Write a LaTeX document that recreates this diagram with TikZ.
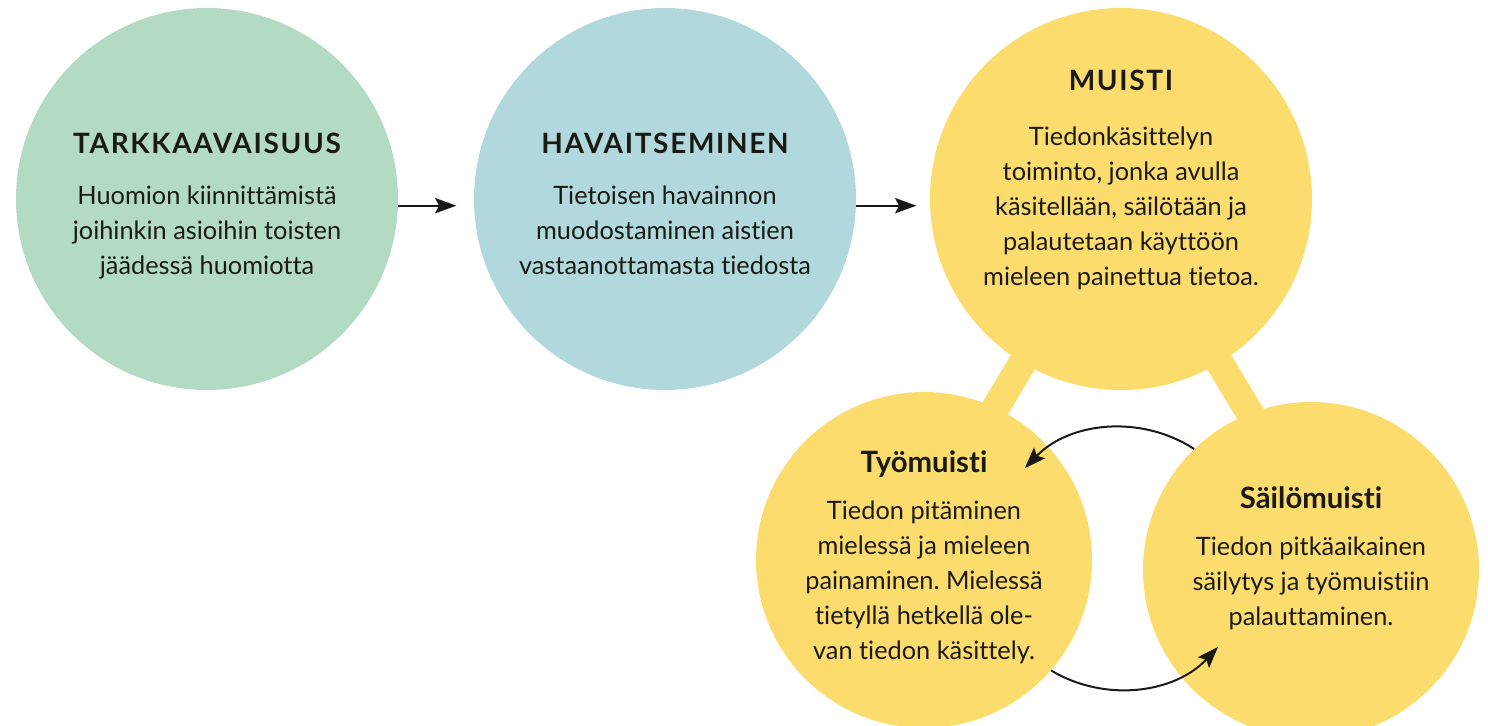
\documentclass[tikz,border=0pt]{standalone}
\usepackage{fontspec}
\setmainfont{Lato}[Ligatures=NoCommon]
\newfontfamily\headfont{Lato}[LetterSpace=6, Ligatures=NoCommon]
\frenchspacing
\usetikzlibrary{arrows.meta}
\usetikzlibrary{backgrounds}
\definecolor{tarkgreen}{HTML}{B3DBC3}
\definecolor{havblue}{HTML}{B1D9DD}
\definecolor{memyellow}{HTML}{FDDC6E}
\definecolor{inkblack}{HTML}{1A1A14}
\newcommand{\headcaps}[1]{{\headfont\bfseries\fontsize{21}{24}\selectfont #1}}
\newcommand{\headmixed}[1]{{\bfseries\fontsize{22}{24}\selectfont #1}}
\tikzset{
  bigdisc/.style={circle, minimum size=286.5pt, inner sep=0pt},
  smalldisc/.style={circle, minimum size=252pt, inner sep=0pt},
  blurb/.style={align=center, text=inkblack, inner sep=0pt, font=\fontsize{19}{26.25}\selectfont},
  flow/.style={draw=inkblack, line width=1.5pt, -{Stealth[length=16pt, width=11.5pt, inset=3pt]}},
  membar/.style={draw=memyellow, line width=21pt},
}

\begin{document}
\begin{tikzpicture}[x=0.75pt, y=0.75pt]
  \useasboundingbox (0,0) rectangle (1488,-725);
  % the three stages
  \node[bigdisc, fill=tarkgreen] (tark) at (207,-199) {};
  \node[bigdisc, fill=havblue] (hav) at (665,-199) {};
  \node[bigdisc, fill=memyellow] (muisti) at (1121,-199) {};
  % the two kinds of memory
  \node[smalldisc, fill=memyellow] (tyo) at (924,-560) {};
  \node[smalldisc, fill=memyellow] (sailo) at (1311,-570) {};

  % yellow bars behind the circles
  \begin{scope}[on background layer]
    \draw[membar] (muisti.center) -- ([xshift=-15pt]tyo.center);
    \draw[membar] (muisti.center) -- ([xshift=25pt]sailo.center);
  \end{scope}

  % texts
  \node[blurb] (tarktext) at ([yshift=-5pt]tark.center)
    {\headcaps{TARKKAAVAISUUS}\\[12pt]
     Huomion kiinnittämistä\\
     joihinkin asioihin toisten\\
     jäädessä huomiotta};
  \node[blurb] (havtext) at ([yshift=-4pt]hav.center)
    {\headcaps{HAVAITSEMINEN}\\[12pt]
     Tietoisen havainnon\\
     muodostaminen aistien\\
     vastaanottamasta tiedosta};
  \node[blurb] (muistitext) at ([yshift=14pt]muisti.center)
    {\headcaps{MUISTI}\\[15pt]
     Tiedonkäsittelyn\\
     toiminto, jonka avulla\\
     käsitellään, säilötään ja\\
     palautetaan käyttöön\\
     mieleen painettua tietoa.};
  \node[blurb] (tyotext) at ([yshift=2pt]tyo.center)
    {\headmixed{Työmuisti}\\[9pt]
     Tiedon pitäminen\\
     mielessä ja mieleen\\
     painaminen. Mielessä\\
     tietyllä hetkellä ole-\\
     van tiedon käsittely.};
  \node[blurb] (sailotext) at ([yshift=9pt]sailo.center)
    {\headmixed{Säilömuisti}\\[9pt]
     Tiedon pitkäaikainen\\
     säilytys ja työmuistiin\\
     palauttaminen.};

  % arrows
  \draw[flow, shorten >=13pt] (tark.-2.4) -- (tark.-2.4 -| hav.west);
  \draw[flow, shorten >=10pt] (hav.-2.4) -- (hav.-2.4 -| muisti.west);
  \draw[flow] (sailo.134) arc[start angle=57, end angle=136, radius=134];
  \draw[flow] (tyo.-41) arc[start angle=239, end angle=317, radius=134];
\end{tikzpicture}
\end{document}
